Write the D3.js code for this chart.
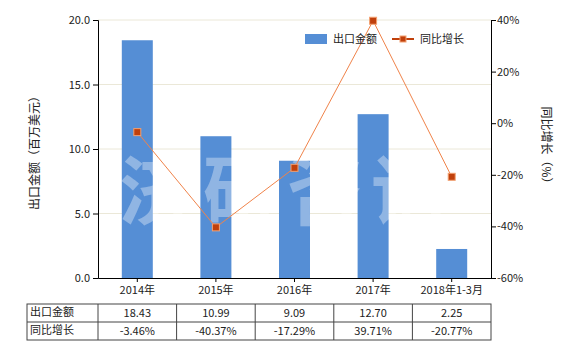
<!DOCTYPE html>
<html>
<head>
<meta charset="utf-8">
<script src="https://cdn.jsdelivr.net/npm/d3@7"></script>
<style>
  body { margin: 0; background: #fff; }
  text { font-family: "Noto Sans CJK SC", "Noto Sans", sans-serif; }
</style>
</head>
<body>
<div id="chart"></div>
<script>
var categories = ["2014年", "2015年", "2016年", "2017年", "2018年1-3月"];
var exportValues = [18.43, 10.99, 9.09, 12.70, 2.25];
var growthValues = [-3.46, -40.37, -17.29, 39.71, -20.77];
var exportLabels = ["18.43", "10.99", "9.09", "12.70", "2.25"];
var growthLabels = ["-3.46%", "-40.37%", "-17.29%", "39.71%", "-20.77%"];
var leftTicks = [0, 5, 10, 15, 20];
var rightTicks = [-60, -40, -20, 0, 20, 40];
var watermark = ["济", "研", "咨", "询"];

var margin = {top: 20, left: 98, right: 89, bottom: 72},
    width = 580 - margin.left - margin.right,
    height = 350 - margin.top - margin.bottom;

var svg = d3.select("#chart").append("svg")
    .attr("width", 580)
    .attr("height", 350);

var g = svg.append("g")
    .attr("transform", "translate(" + margin.left + "," + margin.top + ")");

var xScale = d3.scaleBand().domain(categories).range([0, width]);
var yLeft = d3.scaleLinear().domain([0, 20]).range([height, 0]);
var yRight = d3.scaleLinear().domain([-60, 40]).range([height, 0]);

// grid
g.selectAll(".grid")
  .data(leftTicks.slice(1))
  .enter().append("line")
  .attr("x1", 0).attr("x2", width)
  .attr("y1", function(d) { return yLeft(d); })
  .attr("y2", function(d) { return yLeft(d); })
  .attr("stroke", "#ebe8d8").attr("stroke-width", 1);

// bars
var barW = 31;
g.selectAll(".bar")
  .data(exportValues)
  .enter().append("rect")
  .attr("x", function(d, i) { return xScale(categories[i]) + xScale.bandwidth() / 2 - barW / 2; })
  .attr("y", function(d) { return yLeft(d); })
  .attr("width", barW)
  .attr("height", function(d) { return height - yLeft(d); })
  .attr("fill", "#558ed5");

// watermark
g.selectAll(".wm")
  .data(watermark)
  .enter().append("text")
  .attr("x", function(d, i) { return 59 + i * 84; })
  .attr("y", 199)
  .attr("text-anchor", "middle")
  .attr("font-size", 76)
  .attr("font-weight", "bold")
  .attr("fill", "#ffffff")
  .attr("fill-opacity", 0.35)
  .text(function(d) { return d; });

// line
var line = d3.line()
  .x(function(d, i) { return xScale(categories[i]) + xScale.bandwidth() / 2; })
  .y(function(d) { return yRight(d); });

g.append("path")
  .datum(growthValues)
  .attr("d", line)
  .attr("fill", "none")
  .attr("stroke", "#f0834a")
  .attr("stroke-width", 1);

g.selectAll(".pt")
  .data(growthValues)
  .enter().append("rect")
  .attr("x", function(d, i) { return xScale(categories[i]) + xScale.bandwidth() / 2 - 3.5; })
  .attr("y", function(d) { return yRight(d) - 3.5; })
  .attr("width", 7).attr("height", 7)
  .attr("fill", "#c0400c")
  .attr("stroke", "#f3a070")
  .attr("stroke-width", 1);

// axes
var axisFont = function(sel) {
  sel.selectAll("text").attr("font-size", 11).attr("fill", "#222");
  sel.selectAll("path, line").attr("stroke", "#000");
};

g.append("g")
  .call(d3.axisLeft(yLeft).tickValues(leftTicks).tickFormat(d3.format(".1f")).tickSize(5).tickPadding(3))
  .call(axisFont);

g.append("g")
  .attr("transform", "translate(" + width + ",0)")
  .call(d3.axisRight(yRight).tickValues(rightTicks).tickFormat(function(d) { return d + "%"; }).tickSize(5).tickPadding(1))
  .call(axisFont);

g.append("g")
  .attr("transform", "translate(0," + height + ")")
  .call(d3.axisBottom(xScale).tickSize(4).tickSizeOuter(0).tickPadding(4))
  .call(axisFont);

// axis titles
svg.append("text")
  .attr("transform", "translate(39,150) rotate(-90)")
  .attr("text-anchor", "middle")
  .attr("font-size", 12)
  .attr("fill", "#222")
  .text("出口金额（百万美元）");

svg.append("text")
  .attr("transform", "translate(542,148) rotate(90)")
  .attr("text-anchor", "middle")
  .attr("font-size", 12)
  .attr("fill", "#222")
  .text("同比增长（%）");

// legend
var legend = svg.append("g");
legend.append("rect")
  .attr("x", 305).attr("y", 34).attr("width", 22).attr("height", 10)
  .attr("fill", "#558ed5");
legend.append("text")
  .attr("x", 333).attr("y", 43)
  .attr("font-size", 11).attr("fill", "#222")
  .text("出口金额");
legend.append("line")
  .attr("x1", 392).attr("x2", 414).attr("y1", 39).attr("y2", 39)
  .attr("stroke", "#c0400c").attr("stroke-width", 2);
legend.append("rect")
  .attr("x", 400).attr("y", 36).attr("width", 6).attr("height", 6)
  .attr("fill", "#c0400c").attr("stroke", "#f3a070");
legend.append("text")
  .attr("x", 420).attr("y", 43)
  .attr("font-size", 11).attr("fill", "#222")
  .text("同比增长");

// table
var tableTop = 304, rowH = 18, tableLeft = 27;
var rows = [["出口金额", exportLabels], ["同比增长", growthLabels]];
var table = svg.append("g");

table.append("rect")
  .attr("x", tableLeft).attr("y", tableTop)
  .attr("width", margin.left + width - tableLeft).attr("height", rowH * 2)
  .attr("fill", "none").attr("stroke", "#444");
table.append("line")
  .attr("x1", tableLeft).attr("x2", margin.left + width)
  .attr("y1", tableTop + rowH).attr("y2", tableTop + rowH)
  .attr("stroke", "#444");
table.selectAll(".col")
  .data(categories)
  .enter().append("line")
  .attr("x1", function(d) { return margin.left + xScale(d); })
  .attr("x2", function(d) { return margin.left + xScale(d); })
  .attr("y1", tableTop).attr("y2", tableTop + rowH * 2)
  .attr("stroke", "#444");

rows.forEach(function(r, ri) {
  var y = tableTop + rowH * ri + 13;
  table.append("text")
    .attr("x", tableLeft + 3).attr("y", y - 1)
    .attr("font-size", 11).attr("fill", "#222")
    .text(r[0]);
  table.selectAll(".cell" + ri)
    .data(r[1])
    .enter().append("text")
    .attr("x", function(d, i) { return margin.left + xScale(categories[i]) + xScale.bandwidth() / 2; })
    .attr("y", y)
    .attr("text-anchor", "middle")
    .attr("font-size", 11).attr("fill", "#222")
    .text(function(d) { return d; });
});
</script>
</body>
</html>
